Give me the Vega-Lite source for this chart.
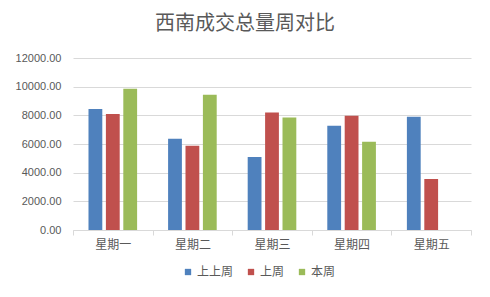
{
  "$schema": "https://vega.github.io/schema/vega-lite/v6.json",
  "width": 398,
  "height": 172,
  "autosize": {"type": "none"},
  "padding": {"left": 73, "top": 58, "right": 19, "bottom": 67},
  "background": "white",
  "title": {
    "text": "西南成交总量周对比",
    "font": "Noto Sans CJK SC",
    "fontSize": 20,
    "fontWeight": "normal",
    "color": "#595959",
    "anchor": "middle",
    "frame": "group",
    "dx": -27,
    "offset": 18
  },
  "data": {
    "values": [
      {"day": "星期一", "series": "上上周", "value": 8450},
      {"day": "星期一", "series": "上周", "value": 8100},
      {"day": "星期一", "series": "本周", "value": 9850},
      {"day": "星期二", "series": "上上周", "value": 6360},
      {"day": "星期二", "series": "上周", "value": 5870},
      {"day": "星期二", "series": "本周", "value": 9430},
      {"day": "星期三", "series": "上上周", "value": 5100},
      {"day": "星期三", "series": "上周", "value": 8200},
      {"day": "星期三", "series": "本周", "value": 7850},
      {"day": "星期四", "series": "上上周", "value": 7270},
      {"day": "星期四", "series": "上周", "value": 7970},
      {"day": "星期四", "series": "本周", "value": 6150},
      {"day": "星期五", "series": "上上周", "value": 7900},
      {"day": "星期五", "series": "上周", "value": 3560}
    ]
  },
  "mark": {"type": "bar"},
  "encoding": {
    "x": {
      "field": "day",
      "type": "nominal",
      "sort": ["星期一", "星期二", "星期三", "星期四", "星期五"],
      "scale": {"paddingInner": 0, "paddingOuter": 0},
      "axis": {
        "title": null,
        "labelAngle": 0,
        "labelFont": "Noto Sans CJK SC",
        "labelFontSize": 12,
        "labelColor": "#595959",
        "labelPadding": 4,
        "domainColor": "#d9d9d9",
        "tickColor": "#d9d9d9",
        "tickSize": 5,
        "tickBand": "extent",
        "grid": false
      }
    },
    "xOffset": {
      "field": "series",
      "type": "nominal",
      "sort": ["上上周", "上周", "本周"],
      "scale": {"paddingInner": 0.207, "paddingOuter": 0.89}
    },
    "y": {
      "field": "value",
      "type": "quantitative",
      "scale": {"domain": [0, 12000], "nice": false},
      "axis": {
        "title": null,
        "values": [0, 2000, 4000, 6000, 8000, 10000, 12000],
        "format": ".2f",
        "labelFont": "Liberation Sans",
        "labelFontSize": 11,
        "labelColor": "#595959",
        "labelPadding": 12,
        "domain": false,
        "ticks": false,
        "gridColor": "#d9d9d9",
        "gridWidth": 1
      }
    },
    "color": {
      "field": "series",
      "type": "nominal",
      "sort": ["上上周", "上周", "本周"],
      "scale": {"domain": ["上上周", "上周", "本周"], "range": ["#4f81bd", "#c0504d", "#9bbb59"]},
      "legend": {
        "title": null,
        "orient": "none",
        "direction": "horizontal",
        "legendX": 109,
        "legendY": 208,
        "symbolType": "square",
        "symbolSize": 40,
        "symbolStrokeWidth": 0,
        "labelFont": "Noto Sans CJK SC",
        "labelFontSize": 12,
        "labelColor": "#595959",
        "labelOffset": 3,
        "columnPadding": 11
      }
    }
  },
  "config": {
    "view": {"stroke": null}
  }
}
